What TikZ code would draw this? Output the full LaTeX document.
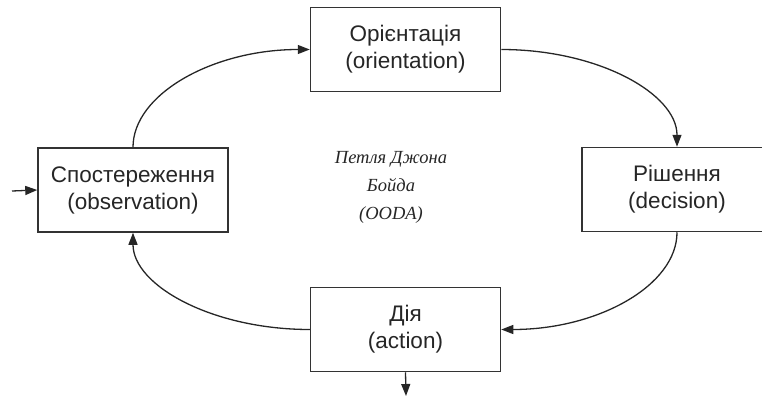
\documentclass[tikz,border=0pt]{standalone}
\usepackage{fontspec}
\setmainfont{Liberation Sans}
\newfontfamily\serifit{Liberation Serif}
\usetikzlibrary{arrows.meta,calc}
\begin{document}
\begin{tikzpicture}[x=1pt,y=-1pt,
  box/.style={draw=black!80, line width=1.5pt, fill=white, minimum width=190pt, minimum height=84pt,
    align=center, inner sep=0pt, text=black!85,
    font=\fontsize{22.5}{27}\selectfont},
  flow/.style={draw=black!85, line width=1.3pt, -{Triangle[length=12pt,width=9pt]}}
]
\useasboundingbox (0,0) rectangle (762,396);
\clip (0,0) rectangle (762,396);
\node[box] (orient) at (405.5,49.5) {Орієнтація\\(orientation)};
\node[box] (decis) at (677,189.5) {Рішення\\(decision)};
\node[box] (action) at (405.5,329.5) {Дія\\(action)};
\node[box] (obs) at (133,190) {Спостереження\\(observation)};
\node[align=center, text=black!85, font=\serifit\itshape\fontsize{18.5}{28}\selectfont] (title) at (391,187) {Петля Джона\\Бойда\\(OODA)};
\coordinate (inp) at (12,191);
\coordinate (outp) at (406,396);
\draw[flow] (obs.north) .. controls ($(obs.north)+(0,-53)$) and ($(orient.west)+(-97,0)$) .. (orient.west);
\draw[flow] (orient.east) .. controls ($(orient.east)+(97,0)$) and ($(decis.north)+(0,-53)$) .. (decis.north);
\draw[flow] (decis.south) .. controls ($(decis.south)+(0,53)$) and ($(action.east)+(97,0)$) .. (action.east);
\draw[flow] (action.west) .. controls ($(action.west)+(-97,0)$) and ($(obs.south)+(0,53)$) .. (obs.south);
\draw[flow] (inp) -- (obs.west);
\draw[flow] (action.south) -- (outp);
\end{tikzpicture}
\end{document}
